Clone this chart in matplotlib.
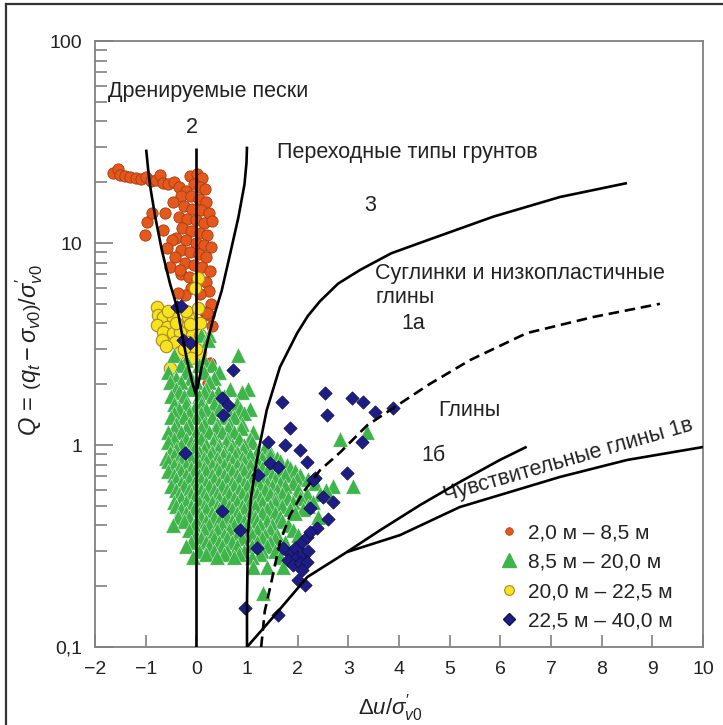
import numpy as np
import matplotlib.pyplot as plt
from matplotlib.lines import Line2D

plt.rcParams['font.family'] = ['Liberation Sans', 'DejaVu Sans']
plt.rcParams['mathtext.fontset'] = 'custom'
plt.rcParams['mathtext.rm'] = 'Liberation Sans'
plt.rcParams['mathtext.it'] = 'Liberation Sans:italic'
plt.rcParams['mathtext.bf'] = 'Liberation Sans:bold'

# ---- данные: глубина 2,0-8,5 м (оранжевые круги)
orange_x = [-1.65, -1.55, -1.5, -1.4, -1.3, -1.2, -1.1, -1.0, -0.9, -0.8, -0.72, -0.65, -0.55, -0.45, -0.35,
            -0.12, 0.02, 0.12, -0.05, 0.08, 0.18, -0.2, -0.3, -0.1, 0.05, 0.2, -0.25, -0.08, 0.1, 0.25,
            -0.35, -0.18, 0.0, 0.15, 0.3, -0.28, -0.1, 0.08, 0.22, -0.4, -0.2, 0.0, 0.15, 0.28, -0.3,
            -0.12, 0.05, 0.2, -0.22, -0.05, 0.12, 0.27, -0.3, -0.15, 0.02, 0.2, -0.1, 0.25, 0.08, -0.22,
            0.28, 0.25, 0.3, -1.01, -0.97, -0.87, -0.62, -0.46, -0.66, -0.48, -0.58, -0.42, -0.52, -0.32,
            -0.36, 0.27, 0.23, 0.17, 0.21]
orange_q = [22.2, 23.3, 21.8, 21.5, 21.2, 21.0, 20.7, 21.3, 20.2, 20.6, 21.8, 19.8, 19.5, 20.1, 19.0,
            21.5, 22.0, 21.0, 19.5, 19.0, 18.5, 18.0, 17.0, 17.0, 16.5, 16.0, 15.2, 14.8, 14.5, 14.0,
            13.5, 13.2, 13.0, 12.5, 12.8, 11.8, 11.5, 11.2, 11.0, 10.6, 10.3, 10.0, 9.8, 9.5, 9.2,
            9.0, 8.8, 8.5, 8.0, 7.8, 7.6, 7.3, 7.0, 6.8, 6.6, 6.4, 6.0, 5.8, 5.6, 5.5,
            5.0, 4.4, 3.9, 10.9, 12.7, 14.1, 14.1, 16.0, 11.6, 10.4, 9.45, 8.5, 7.6, 7.35,
            5.65, 2.55, 2.03, 4.55, 4.5]

# ---- 20,0-22,5 м (жёлтые круги)
yellow_x = [-0.78, -0.76, -0.66, -0.46, -0.16, 0.03, -0.78, -0.58, -0.26, -0.03, 0.07, -0.66, -0.46, -0.32,
            -0.08, 0.07, -0.68, -0.42, -0.16, 0.07, -0.32, 0.07, -0.52, 0.03, -0.03, -0.55, -0.2, -0.4,
            -0.12, -0.6, -0.25, 0.0, -0.1]
yellow_q = [4.82, 4.40, 4.30, 4.25, 4.30, 4.77, 3.93, 3.84, 3.80, 3.84, 4.01, 3.63, 3.59, 3.63,
            3.50, 3.50, 3.31, 3.23, 3.23, 3.23, 2.89, 2.85, 2.41, 6.7, 6.0, 4.6, 4.6, 4.0,
            3.95, 3.1, 3.0, 3.0, 2.7]

# ---- 8,5-20,0 м (зелёные треугольники), по строкам Q
green_rows = [
    (3.5, [0.1, 0.25]),
    (3.3, [0.23]),
    (2.8, [-0.45, 0.83]),
    (2.65, [-0.2, 0.15]),
    (2.5, [-0.3, 0.05, 0.3]),
    (2.3, [-0.55, -0.2, 0.15, 0.45]),
    (2.15, [-0.4, -0.1, 0.35]),
    (2.05, [-0.52, -0.3, 0.0, 0.25]),
    (1.9, [-0.4, -0.1, 0.2, 0.66, 1.02]),
    (1.82, [-0.35, 0.15, 0.42, 0.9]),
    (1.75, [-0.5, -0.25, 0.05, 0.3, 0.55]),
    (1.6, [-0.45, -0.2, 0.1, 0.35, 0.8]),
    (1.5, [-0.35, -0.05, 0.2, 0.45, 0.86, 1.06]),
    (1.44, [-0.45, -0.15, 0.1, 0.65, 0.95]),
    (1.38, [-0.5, -0.25, 0.0, 0.3, 0.55, 0.75]),
    (1.27, [-0.4, -0.15, 0.15, 0.4, 0.65, 0.9]),
    (1.21, [-0.45, -0.2, 0.1, 0.38, 0.62, 0.88]),
    (1.16, [-0.55, -0.3, 0.0, 0.25, 0.5, 0.75, 1.12, 3.37]),
    (1.07, [-0.45, -0.2, 0.1, 0.35, 0.6, 0.85, 1.05, 2.84]),
    (1.03, [-0.55, -0.1, 0.33, 0.58, 1.1]),
    (1.0, [-0.3, -0.05, 0.2, 0.45, 0.7, 0.95]),
    (0.95, [-0.4, -0.05, 0.15, 0.42, 0.68, 0.92, 1.33]),
    (0.92, [-0.52, -0.2, 0.05, 0.3, 0.55, 0.8, 1.2, 1.45]),
    (0.89, [-0.45, -0.22, 0.02, 0.27, 0.52, 0.77, 1.05, 1.45]),
    (0.86, [-0.6, -0.35, -0.1, 0.15, 0.4, 0.65, 0.9, 1.3, 1.6]),
    (0.83, [-0.55, -0.3, 0.2, 0.45, 0.7, 0.95, 1.2, 1.65]),
    (0.8, [-0.45, -0.2, 0.05, 0.3, 0.55, 0.8, 1.05, 1.5, 1.79]),
    (0.77, [-0.35, -0.1, 0.15, 0.4, 0.65, 0.9, 1.3, 1.55, 1.85]),
    (0.74, [-0.55, -0.3, -0.05, 0.2, 0.45, 0.7, 0.95, 1.2, 1.4, 1.65, 1.95]),
    (0.71, [-0.45, -0.2, 0.05, 0.3, 0.55, 0.8, 1.05, 1.5, 1.75, 2.05]),
    (0.68, [-0.4, -0.15, 0.1, 0.35, 0.6, 0.85, 1.1, 1.3, 1.55, 1.99, 2.2]),
    (0.65, [-0.3, -0.05, 0.2, 0.45, 0.7, 0.95, 1.15, 1.4, 1.65, 1.9, 2.35]),
    (0.63, [-0.5, -0.25, 0.0, 0.25, 0.5, 0.75, 1.0, 1.25, 1.5, 1.75, 2.7, 3.1]),
    (0.60, [-0.4, -0.15, 0.1, 0.35, 0.6, 0.85, 1.1, 1.35, 1.6, 2.0, 2.55]),
    (0.57, [-0.35, -0.1, 0.15, 0.4, 0.65, 0.9, 1.19, 1.45, 1.7, 2.19, 2.45]),
    (0.545, [-0.3, -0.05, 0.2, 0.45, 0.75, 1.0, 1.25, 1.55, 1.8, 2.05]),
    (0.52, [-0.45, -0.2, 0.05, 0.3, 0.55, 0.8, 1.05, 1.3, 1.55, 1.9, 2.3]),
    (0.50, [-0.4, -0.1, 0.15, 0.4, 0.65, 0.9, 1.15, 1.45, 1.7, 2.2]),
    (0.48, [-0.3, -0.05, 0.2, 0.45, 0.7, 0.95, 1.39, 1.85, 2.1]),
    (0.46, [-0.2, 0.05, 0.3, 0.55, 0.8, 1.05, 1.3, 1.55, 1.95]),
    (0.44, [-0.36, -0.15, 0.1, 0.35, 0.6, 0.85, 1.15, 1.65, 2.4]),
    (0.42, [-0.25, 0.0, 0.2, 0.45, 0.7, 0.95, 1.2, 1.4, 1.7]),
    (0.40, [-0.46, -0.05, 0.25, 0.5, 0.75, 1.0, 1.25, 1.5, 1.8]),
    (0.38, [-0.15, 0.15, 0.4, 0.65, 0.9, 1.2, 1.45, 1.9]),
    (0.36, [0.0, 0.3, 0.55, 0.8, 1.1, 1.35, 1.6, 2.0]),
    (0.345, [0.1, 0.35, 0.6, 0.9, 1.3, 1.55]),
    (0.33, [-0.1, 0.2, 0.45, 0.7, 1.2, 1.45, 1.75]),
    (0.315, [-0.2, 0.25, 0.5, 0.8, 1.1, 1.4]),
    (0.30, [0.05, 0.35, 0.6, 0.95, 1.3, 1.55, 1.9]),
    (0.29, [0.2, 0.55, 0.85, 1.25]),
    (0.28, [-0.06, 0.4, 0.75, 1.1, 1.65]),
    (0.25, [1.12, 1.4, 1.71]),
    (0.185, [1.32]),
]
green_x = [x for q, xs in green_rows for x in xs]
green_q = [q for q, xs in green_rows for x in xs]

# ---- 22,5-40,0 м (синие ромбы)
blue_x = [-0.38, -0.3, -0.26, -0.12, 0.73, 0.51, 0.63, 0.53, -0.22, 1.69, 2.54, 2.58, 3.07, 3.29, 3.53,
          3.88, 1.85, 1.42, 1.75, 2.05, 2.19, 1.45, 1.61, 1.22, 2.34, 2.97, 3.27, 0.51, 0.86, 1.2,
          2.31, 2.5, 2.7, 2.25, 2.6, 2.38, 1.71, 1.85, 1.95, 2.09, 2.19, 2.25, 1.81, 1.99, 2.11,
          2.21, 1.91, 2.05, 2.19, 2.09, 2.01, 2.15, 1.61, 0.96]
blue_q = [4.8, 4.9, 3.3, 3.2, 2.35, 1.71, 1.58, 1.41, 0.91, 1.63, 1.81, 1.41, 1.71, 1.63, 1.46,
          1.52, 1.21, 1.03, 1.0, 0.945, 0.82, 0.81, 0.78, 0.71, 0.69, 0.73, 1.03, 0.47, 0.38, 0.31,
          0.67, 0.55, 0.52, 0.49, 0.43, 0.39, 0.31, 0.29, 0.31, 0.33, 0.35, 0.37, 0.27, 0.28, 0.29,
          0.30, 0.255, 0.26, 0.264, 0.24, 0.215, 0.203, 0.144, 0.156]

# ---- границы зон
b2_left_x = [-0.99, -0.95, -0.91, -0.81, -0.68, -0.52, -0.38, -0.28, -0.18, -0.07, 0.0]
b2_left_q = [29, 23, 19, 13.4, 9.2, 6.3, 4.8, 3.5, 2.6, 2.0, 1.75]
b2_mid_x = [0.0, 0.0]
b2_mid_q = [29.5, 0.1]
b2_right_x = [1.0, 0.99, 0.95, 0.83, 0.67, 0.5, 0.33, 0.2, 0.1, 0.02]
b2_right_q = [30, 25, 19.5, 13.4, 8.9, 5.8, 4.2, 3.1, 2.4, 1.9]
b3_x = [1.0, 1.0, 1.02, 1.08, 1.16, 1.25, 1.39, 1.65, 1.99, 2.2, 2.44, 2.8, 3.23, 3.85, 4.55, 5.86, 7.18, 8.5]
b3_q = [0.1, 0.17, 0.37, 0.55, 0.75, 1.0, 1.49, 2.43, 3.58, 4.35, 5.15, 6.3, 7.35, 8.9, 10.3, 13.5, 16.9, 19.8]
b1a_x = [1.28, 1.35, 1.49, 1.65, 1.85, 2.1, 2.44, 2.84, 3.37, 3.88, 4.6, 5.4, 6.52, 7.83, 9.15]
b1a_q = [0.1, 0.15, 0.215, 0.33, 0.45, 0.58, 0.75, 0.92, 1.25, 1.52, 2.0, 2.63, 3.58, 4.3, 5.0]
b1b_x = [1.0, 1.52, 2.19, 2.97, 3.63, 4.42, 5.2, 5.99, 6.52]
b1b_q = [0.1, 0.141, 0.222, 0.295, 0.379, 0.505, 0.656, 0.843, 0.98]
b1c_x = [2.97, 4.02, 5.2, 7.18, 8.5, 10.0]
b1c_q = [0.295, 0.358, 0.493, 0.695, 0.843, 0.977]

xticks = [-2, -1, 0, 1, 2, 3, 4, 5, 6, 7, 8, 9, 10]
xticklabels = ['\u22122', '\u22121', '0', '1', '2', '3', '4', '5', '6', '7', '8', '9', '10']
yticks = [0.1, 1, 10, 100]
yticklabels = ['0,1', '1', '10', '100']
legend_labels = ['2,0 м – 8,5 м', '8,5 м – 20,0 м', '20,0 м – 22,5 м', '22,5 м – 40,0 м']

c_orange = '#e4581d'
c_green = '#3fb44b'
c_yellow = '#f6e31c'
c_blue = '#1d1d83'
txt = '#222222'
grey = '#808080'

fig = plt.figure(figsize=(7.23, 7.25), dpi=100)
ax = fig.add_axes([95 / 723, 78 / 725, 608 / 723, 606 / 725])

ax.scatter(orange_x, orange_q, s=66, c=c_orange, edgecolors='#a13d12', linewidths=0.6, zorder=3)
ax.scatter(yellow_x, yellow_q, s=80, c=c_yellow, edgecolors='#a58a2a', linewidths=0.8, zorder=4)
ax.scatter(green_x, green_q, s=120, marker='^', c=c_green, edgecolors='#e8f5e8', linewidths=0.3, zorder=5)
ax.scatter(blue_x, blue_q, s=46, marker='D', c=c_blue, edgecolors='#0e0e50', linewidths=0.5, zorder=6)

lw = 1.9
for xs, qs in [(b2_left_x, b2_left_q), (b2_mid_x, b2_mid_q), (b2_right_x, b2_right_q),
               (b3_x, b3_q), (b1b_x, b1b_q), (b1c_x, b1c_q)]:
    ax.plot(xs, qs, color='black', lw=lw, zorder=7, solid_capstyle='butt')
ax.plot(b1a_x, b1a_q, color='black', lw=lw, ls=(0, (4, 2.2)), zorder=7)

ax.set_yscale('log')
ax.set_xlim(-2, 10)
ax.set_ylim(0.1, 100)
ax.set_xticks(xticks)
ax.set_xticklabels(xticklabels)
ax.set_yticks(yticks)
ax.set_yticklabels(yticklabels)
ax.tick_params(axis='both', which='both', direction='in', colors=grey, labelcolor=txt,
               labelsize=14, width=1.2)
ax.tick_params(axis='y', which='major', length=13, pad=9)
ax.tick_params(axis='y', which='minor', length=8.5)
ax.tick_params(axis='x', which='major', length=8.5, pad=10)
for sp in ax.spines.values():
    sp.set_color(grey)
    sp.set_linewidth(1.3)

fs = 15.5
ax.text(-1.74, 56, 'Дренируемые пески', fontsize=fs, color=txt, va='center')
ax.text(-0.08, 37.5, '2', fontsize=fs, color=txt, ha='center', va='center')
ax.text(1.59, 27.9, 'Переходные типы грунтов', fontsize=fs, color=txt, va='center')
ax.text(3.43, 15.4, '3', fontsize=fs, color=txt, ha='center', va='center')
ax.text(3.53, 7.1, 'Суглинки и низкопластичные', fontsize=fs, color=txt, va='center')
ax.text(3.53, 5.35, 'глины', fontsize=fs, color=txt, va='center')
ax.text(4.28, 4.0, '1а', fontsize=fs, color=txt, ha='center', va='center')
ax.text(4.77, 1.49, 'Глины', fontsize=fs, color=txt, va='center')
ax.text(4.67, 0.89, '1б', fontsize=fs, color=txt, ha='center', va='center')
ax.text(7.35, 0.84, 'Чувствительные глины 1в', fontsize=15.5, color=txt,
        ha='center', va='center', rotation=16, rotation_mode='anchor')

ax.set_ylabel(r'$Q\,=\,\left(q_t-\sigma_{v0}\right)/\sigma^{\prime}_{v0}$', fontsize=17, color=txt)
ax.yaxis.set_label_coords(-0.082, 0.49)
ax.set_xlabel(r'$\Delta u/\sigma^{\prime}_{v0}$', fontsize=16, color=txt)
ax.xaxis.set_label_coords(0.485, -0.074)

handles = [
    Line2D([], [], ls='none', marker='o', ms=5.5, mfc=c_orange, mec='#a13d12', mew=0.5),
    Line2D([], [], ls='none', marker='^', ms=10, mfc=c_green, mec=c_green),
    Line2D([], [], ls='none', marker='o', ms=7, mfc=c_yellow, mec='#a58a2a', mew=0.8),
    Line2D([], [], ls='none', marker='D', ms=6, mfc=c_blue, mec='#0e0e50'),
]
ax.legend(handles, legend_labels, loc='upper left', bbox_to_anchor=(0.633, 0.235),
          frameon=False, fontsize=15, handlelength=1.0, handletextpad=0.4,
          labelspacing=0.5, labelcolor=txt)

fig.add_artist(Line2D([6 / 723, 6 / 723], [0, 1 - 4 / 725], color='#333333', lw=1.6,
                      transform=fig.transFigure))
fig.add_artist(Line2D([6 / 723, 1], [1 - 4 / 725, 1 - 4 / 725], color='#333333', lw=1.6,
                      transform=fig.transFigure))

fig.savefig('out.png', dpi=100)
